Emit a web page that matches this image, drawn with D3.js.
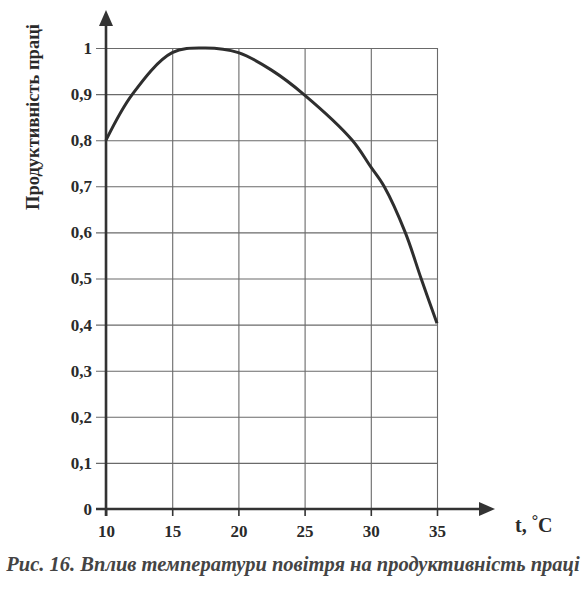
<!DOCTYPE html>
<html>
<head>
<meta charset="utf-8">
<script src="https://cdn.jsdelivr.net/npm/d3@7"></script>
<style>
  body { margin: 0; background: #fff; }
  svg text { font-family: "Liberation Serif", "Times New Roman", serif; }
  .grid line { stroke: #6a6a6a; stroke-width: 1.1; }
  .grid path { display: none; }
  .tick text { fill: #2a2a2a; font-weight: bold; font-size: 17px; }
  .ticks path { display: none; }
  .ticks line { stroke: #333; stroke-width: 1.6; }
  .axis-line { stroke: #333; stroke-width: 2.6; }
  .arrow { fill: #333; }
  .line { fill: none; stroke: #2e2e2e; stroke-width: 3; }
</style>
</head>
<body>
<div id="chart"></div>
<script>
// temperature, °C and productivity
var temps = [10, 12, 15, 17.5, 20, 22.5, 25, 28.6, 30, 31, 32.6, 33.8, 35];
var productivity = [0.8, 0.9, 0.99, 1.0, 0.99, 0.952, 0.898, 0.8, 0.742, 0.7, 0.6, 0.5, 0.403];

var xTicks = [10, 15, 20, 25, 30, 35];
var yTicks = [0, 0.1, 0.2, 0.3, 0.4, 0.5, 0.6, 0.7, 0.8, 0.9, 1];
var yTickLabels = ["0", "0,1", "0,2", "0,3", "0,4", "0,5", "0,6", "0,7", "0,8", "0,9", "1"];

var yTitle = "Продуктивність праці";
var xTitle = "t, ";
var caption = "Рис. 16. Вплив температури повітря на продуктивність праці";

function drawChart() {
    // set the dimensions and margins of the graph
    var margin = { top: 48, right: 149, bottom: 83, left: 106 },
        width = 586 - margin.left - margin.right,
        height = 592 - margin.top - margin.bottom;

    var svg = d3.select("#chart")
        .append("svg")
        .attr("width", 586)
        .attr("height", 592);

    var g = svg.append("g")
        .attr("transform", "translate(" + margin.left + "," + margin.top + ")");

    var x = d3.scaleLinear()
        .domain([10, 35])
        .range([0, width]);

    var y = d3.scaleLinear()
        .domain([0, 1])
        .range([height, 0]);

    // vertical gridlines
    g.append("g")
        .attr("class", "grid")
        .attr("transform", "translate(0," + height + ")")
        .call(d3.axisBottom(x)
            .tickValues(xTicks)
            .tickSize(-height)
            .tickFormat(""));

    // horizontal gridlines, starting a little left of the y axis
    g.append("g")
        .attr("class", "grid")
        .attr("transform", "translate(-10,0)")
        .call(d3.axisLeft(y)
            .tickValues(yTicks.slice(1))
            .tickSize(-(width + 10))
            .tickPadding(4)
            .tickFormat(function (d, i) { return yTickLabels[i + 1]; }));

    // label for 0 (the grid for 0 is the axis itself)
    g.append("g")
        .attr("class", "ticks")
        .attr("transform", "translate(-10,0)")
        .call(d3.axisLeft(y)
            .tickValues([0])
            .tickSize(0)
            .tickPadding(4)
            .tickFormat(function () { return yTickLabels[0]; }));

    // x axis ticks and labels
    g.append("g")
        .attr("class", "ticks")
        .attr("transform", "translate(0," + height + ")")
        .call(d3.axisBottom(x)
            .tickValues(xTicks)
            .tickSize(7)
            .tickPadding(9));

    // axes with arrows
    var x0 = x(10), y0 = y(0);
    var xEnd = x(35) + 58, yEnd = y(1) - 38;

    g.append("line")
        .attr("class", "axis-line")
        .attr("x1", x0 - 10).attr("x2", xEnd - 8)
        .attr("y1", y0).attr("y2", y0);

    g.append("line")
        .attr("class", "axis-line")
        .attr("x1", x0).attr("x2", x0)
        .attr("y1", y0 + 7).attr("y2", yEnd + 8);

    g.append("path")
        .attr("class", "arrow")
        .attr("d", "M" + xEnd + "," + y0 + "L" + (xEnd - 16) + "," + (y0 - 7) +
            "L" + (xEnd - 16) + "," + (y0 + 7) + "Z");

    g.append("path")
        .attr("class", "arrow")
        .attr("d", "M" + x0 + "," + yEnd + "L" + (x0 - 7) + "," + (yEnd + 16) +
            "L" + (x0 + 7) + "," + (yEnd + 16) + "Z");

    // Add the line
    var data = temps.map(function (t, i) { return { t: t, v: productivity[i] }; });
    g.append("path")
        .datum(data)
        .attr("class", "line")
        .attr("d", d3.line()
            .curve(d3.curveCatmullRom.alpha(0.5))
            .x(function (d) { return x(d.t); })
            .y(function (d) { return y(d.v); }));

    // axis titles
    var xt = svg.append("text")
        .attr("x", 515)
        .attr("y", 532)
        .attr("fill", "#2a2a2a")
        .attr("font-weight", "bold")
        .attr("font-size", "20px")
        .text(xTitle);
    xt.append("tspan")
        .attr("font-size", "16px")
        .attr("dy", "-6")
        .text("°");
    xt.append("tspan")
        .attr("dy", "6")
        .text("C");

    svg.append("text")
        .attr("transform", "translate(39,117) rotate(-90)")
        .attr("text-anchor", "middle")
        .attr("fill", "#2a2a2a")
        .attr("font-weight", "bold")
        .attr("font-size", "18.5px")
        .text(yTitle);

    // caption
    svg.append("text")
        .attr("x", 293)
        .attr("y", 571)
        .attr("text-anchor", "middle")
        .attr("fill", "#444")
        .attr("font-weight", "bold")
        .attr("font-style", "italic")
        .attr("font-size", "20.5px")
        .text(caption);
}

drawChart();
</script>
</body>
</html>
